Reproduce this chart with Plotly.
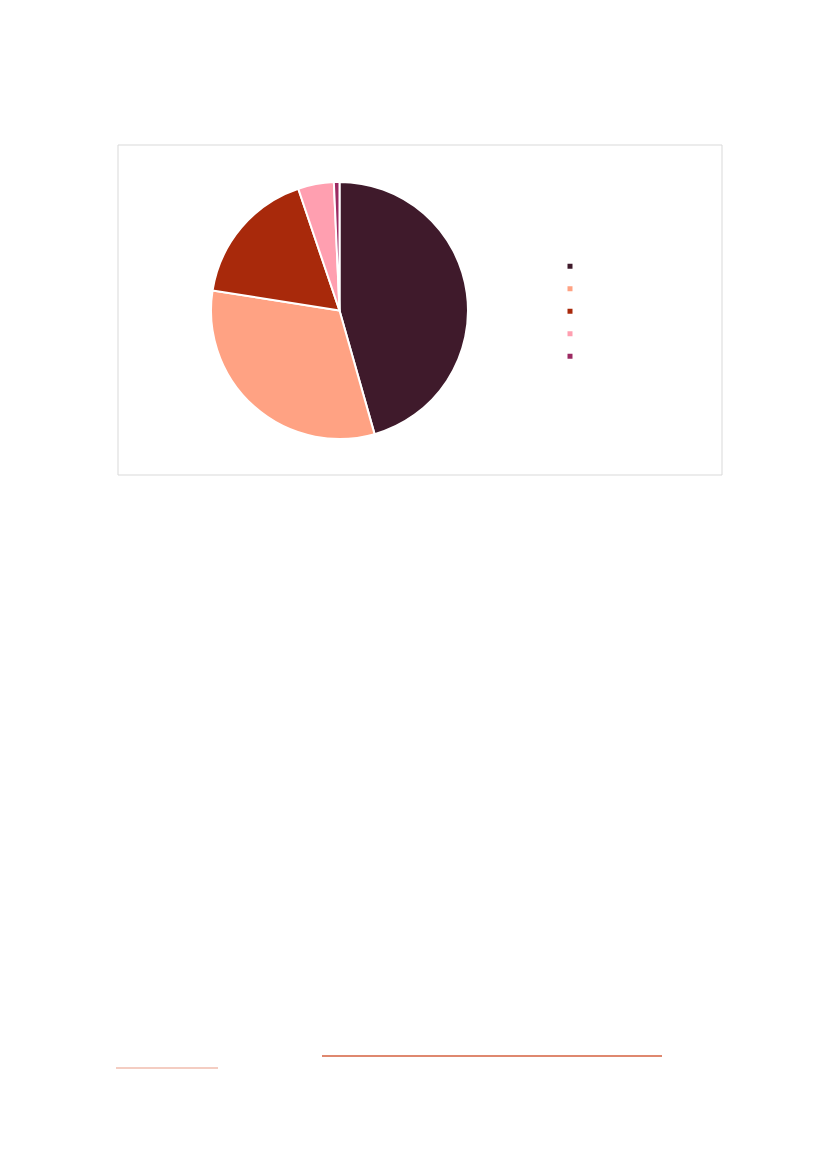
import plotly.graph_objects as go

# slice values (percent of the whole)
labels = ["Categoria 1", "Categoria 2", "Categoria 3", "Categoria 4", "Categoria 5"]
values = [45.6, 31.9, 17.3, 4.5, 0.7]
colors = ["#3f1a2b", "#ffa283", "#a8290b", "#ff9fb0", "#9c2a62"]

# page body has an 8px margin around the plot
W, H = 827 - 16, 1169 - 16

def px(x):
    return (x - 8) / W

def py(y):
    return 1 - (y - 8) / H

fig = go.Figure()

fig.add_trace(go.Pie(
    labels=labels,
    values=values,
    sort=False,
    direction="clockwise",
    rotation=0,
    marker=dict(colors=colors, line=dict(color="white", width=2)),
    textinfo="none",
    hoverinfo="label+percent",
    showlegend=False,
    domain=dict(x=[px(211), px(468)], y=[py(439), py(182)]),
))

# legend entries only, so the little squares stay small
for lab, col in zip(labels, colors):
    fig.add_trace(go.Scatter(
        x=[None], y=[None], mode="markers", name=lab,
        marker=dict(symbol="square", size=5, color=col),
        hoverinfo="skip",
    ))

# frame around the chart and the two underlines below
fig.add_shape(type="rect", xref="paper", yref="paper",
              x0=px(118), x1=px(722), y0=py(475), y1=py(145),
              line=dict(color="#d9d9d9", width=1))
fig.add_shape(type="line", xref="paper", yref="paper",
              x0=px(322), x1=px(662), y0=py(1056), y1=py(1056),
              line=dict(color="#d4603f", width=1.5))
fig.add_shape(type="line", xref="paper", yref="paper",
              x0=px(116), x1=px(218), y0=py(1068), y1=py(1068),
              line=dict(color="#f0bcae", width=1.5))

fig.update_layout(
    width=W, height=H,
    margin=dict(l=0, r=0, t=0, b=0),
    paper_bgcolor="white",
    plot_bgcolor="white",
    xaxis=dict(visible=False),
    yaxis=dict(visible=False),
    legend=dict(
        x=px(550), y=py(250), xanchor="left", yanchor="top",
        font=dict(family="Liberation Sans", size=15, color="white"),
        bgcolor="rgba(0,0,0,0)",
        tracegroupgap=0,
    ),
)

fig.write_html("out.html")
